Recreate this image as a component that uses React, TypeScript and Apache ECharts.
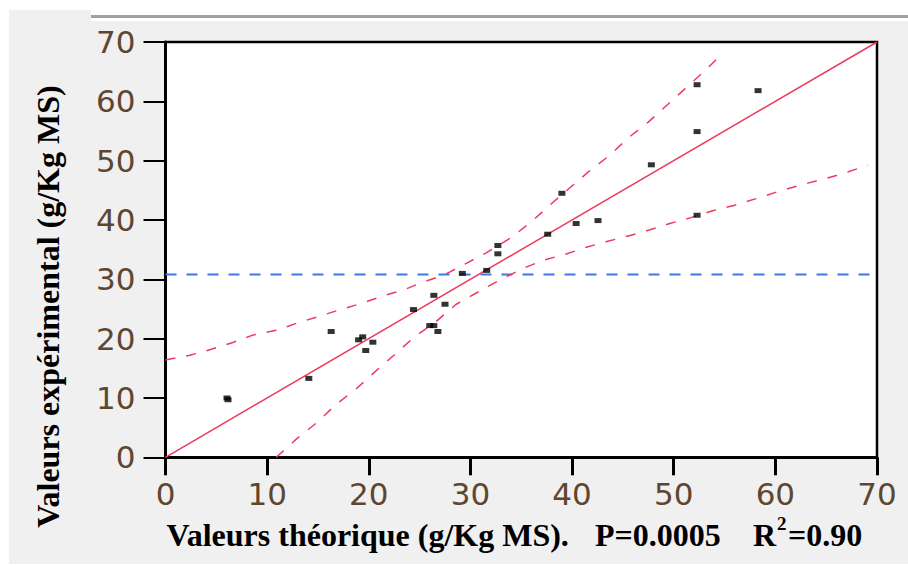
import React, { useEffect, useRef } from "react";
import * as echarts from "echarts";

// Axis ticks
const xTicks = [0, 10, 20, 30, 40, 50, 60, 70];
const yTicks = [0, 10, 20, 30, 40, 50, 60, 70];

// Scatter points (théorique, expérimental)
const points: [number, number][] = [
  [6.05, 10.0], [6.15, 9.7], [14.1, 13.3], [16.3, 21.2], [19.0, 19.8], [19.4, 20.3],
  [20.4, 19.4], [19.7, 18.0], [24.4, 24.9], [26.4, 27.3], [27.5, 25.8],
  [26.0, 22.2], [26.4, 22.2], [26.8, 21.2], [29.2, 31.0], [31.6, 31.5],
  [32.7, 35.7], [32.7, 34.3], [37.6, 37.6], [40.4, 39.4], [42.55, 39.9],
  [39.0, 44.5], [47.8, 49.3], [52.3, 40.8], [52.3, 54.9], [52.3, 62.8],
  [58.3, 61.8],
];

// Regression line
const fitLine: [number, number][] = [[0, 0], [70, 70]];

// Upper confidence band
const upperBand: [number, number][] = [
  [0, 16.4], [2.4, 17.2], [4.5, 18.2], [6.7, 19.4], [8.6, 20.6], [10.9, 21.4],
  [12.9, 22.6], [15, 23.7], [17.2, 24.9], [19, 25.8], [21.4, 27.2], [23.4, 28.2],
  [25.3, 29.5], [27.5, 30.8], [29.6, 32.7], [31.6, 34.5], [33.9, 36.9], [36, 39.7],
  [37.8, 42.5], [39.9, 45.6], [41.6, 48.1], [43.7, 50.9], [45.5, 53.8], [47.5, 56.5],
  [49.3, 59.3], [51.1, 62.1], [52.9, 64.9], [54.9, 68.2],
];

// Lower confidence band
const lowerBand: [number, number][] = [
  [10.9, 0], [12.9, 3.1], [15, 6.0], [16.7, 8.8], [18.8, 11.6], [20.6, 14.4],
  [22.6, 17.4], [24.5, 20.3], [26.7, 23.0], [28.6, 25.8], [30.9, 28.0], [32.9, 29.9],
  [35, 31.7], [37.1, 33.2], [39.3, 34.2], [41.4, 35.4], [43.5, 36.4], [45.7, 37.4],
  [47.6, 38.3], [49.6, 39.4], [51.7, 40.4], [53.9, 41.6], [56, 42.5], [58.1, 43.6],
  [60.1, 44.7], [62.1, 45.7], [66, 47.5], [69.1, 49.2],
];

// Mean line (horizontal)
const meanLine: [number, number][] = [[0, 30.8], [70, 30.8]];

const yTitle = "Valeurs expérimental (g/Kg MS)";
const xTitle = "Valeurs théorique (g/Kg MS).";
const pText = "P=0.0005";
const rMain = "R";
const rSup = "2";
const rVal = "=0.90";

const RED = "#ee3a5c";
const BLUE = "#3b7be0";
const TICK_COLOR = "#5e4630";

export default function App() {
  const ref = useRef<HTMLDivElement>(null);
  useEffect(() => {
    document.body.style.margin = "0";
    if (!ref.current) return;
    const chart = echarts.init(ref.current, null, { renderer: "svg" });
    const serif = "'Liberation Serif', 'Times New Roman', serif";
    const titleStyle = (text: string, align: string, fontSize = 32) => ({
      text,
      fontSize,
      fontFamily: serif,
      fontWeight: "bold",
      fill: "#000",
      align,
      textAlign: align,
      verticalAlign: "middle",
      textVerticalAlign: "middle",
    });
    chart.setOption({
      animation: false,
      backgroundColor: "#ffffff",
      grid: {
        left: 165.5,
        top: 42,
        right: 31,
        bottom: 107.7,
        show: true,
        backgroundColor: "#ffffff",
        borderColor: "#000",
        borderWidth: 2.5,
      },
      xAxis: {
        type: "value",
        min: xTicks[0],
        max: xTicks[xTicks.length - 1],
        interval: 10,
        splitLine: { show: false },
        axisLine: { show: true, onZero: false, lineStyle: { color: "#000", width: 2 } },
        axisTick: { show: true, inside: false, length: 18, lineStyle: { color: "#000", width: 3 } },
        axisLabel: {
          margin: 21,
          fontSize: 31,
          fontFamily: "'DejaVu Sans', sans-serif",
          color: TICK_COLOR,
        },
      },
      yAxis: {
        type: "value",
        min: yTicks[0],
        max: yTicks[yTicks.length - 1],
        interval: 10,
        splitLine: { show: false },
        axisLine: { show: true, onZero: false, lineStyle: { color: "#000", width: 3 } },
        axisTick: { show: true, inside: false, length: 22, lineStyle: { color: "#000", width: 2 } },
        axisLabel: {
          margin: 30,
          fontSize: 31,
          fontFamily: "'DejaVu Sans', sans-serif",
          color: TICK_COLOR,
        },
      },
      graphic: [
        { type: "rect", z: -10, shape: { x: 9, y: 21, width: 899, height: 543 }, style: { fill: "#f0f0f0" } },
        { type: "rect", z: -10, shape: { x: 9, y: 10, width: 82, height: 11 }, style: { fill: "#f0f0f0" } },
        { type: "rect", z: -10, shape: { x: 91, y: 15, width: 817, height: 3 }, style: { fill: "#a0a0a0" } },
        {
          type: "text",
          x: 47.5,
          y: 306.5,
          rotation: Math.PI / 2,
          style: titleStyle(yTitle, "center"),
        },
        { type: "text", x: 166.5, y: 534.5, style: titleStyle(xTitle, "left") },
        { type: "text", x: 595, y: 534.5, style: titleStyle(pText, "left") },
        { type: "text", x: 753, y: 534.5, style: titleStyle(rMain, "left") },
        { type: "text", x: 777, y: 523, style: titleStyle(rSup, "left", 19) },
        { type: "text", x: 788, y: 534.5, style: titleStyle(rVal, "left") },
      ],
      series: [
        {
          type: "line",
          data: meanLine,
          showSymbol: false,
          lineStyle: { color: BLUE, width: 2, type: [11, 10] },
          z: 2,
        },
        {
          type: "line",
          data: upperBand,
          showSymbol: false,
          lineStyle: { color: RED, width: 1.5, type: [10, 11] },
          z: 3,
        },
        {
          type: "line",
          data: lowerBand,
          showSymbol: false,
          lineStyle: { color: RED, width: 1.5, type: [10, 11] },
          z: 3,
        },
        {
          type: "line",
          data: fitLine,
          showSymbol: false,
          lineStyle: { color: RED, width: 1.5 },
          z: 3,
        },
        {
          type: "scatter",
          data: points,
          symbol: "rect",
          symbolSize: [7, 5],
          itemStyle: { color: "#000" },
          z: 5,
        },
      ],
    });
    return () => chart.dispose();
  }, []);
  return <div ref={ref} style={{ width: 908, height: 565 }} />;
}
